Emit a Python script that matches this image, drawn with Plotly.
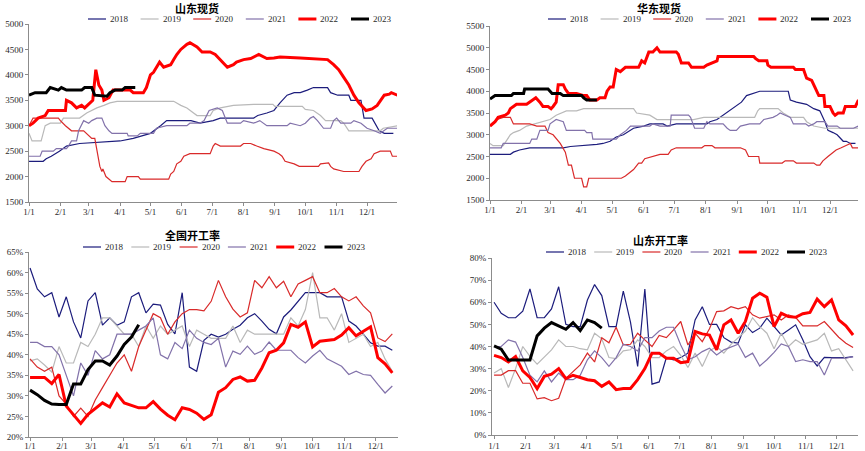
import plotly.graph_objects as go

W, H = 865, 451

YEARS = ["2018", "2019", "2020", "2021", "2022", "2023"]
COLORS = ["#1c1c7c", "#b9b9b9", "#d92a2a", "#8272aa", "#ff0000", "#000000"]
WIDTHS = [1.2, 1.2, 1.2, 1.2, 3.0, 3.0]

MONTH_DAYS = [0, 31, 59, 90, 120, 151, 181, 212, 243, 273, 304, 334]
MONTH_TEXT = ["1/1", "2/1", "3/1", "4/1", "5/1", "6/1", "7/1", "8/1", "9/1", "10/1", "11/1", "12/1"]

# ---------------- 山东现货 (day-of-year, price) ----------------
sd_spot_2018 = [(0,2300),(14,2300),(17,2350),(22,2400),(30,2500),(37,2600),(50,2650),(90,2700),(103,2750),(113,2800),(120,2850),(130,3000),(136,3100),(160,3100),(169,3050),(182,3100),(189,3150),(222,3150),(226,3200),(235,3250),(242,3300),(248,3450),(255,3600),(262,3650),(268,3650),(275,3700),(281,3750),(295,3750),(298,3650),(305,3600),(316,3600),(318,3500),(328,3500),(331,3150),(339,3150),(346,2900),(351,2850),(360,2850)]
sd_spot_2019 = [(0,2850),(3,2700),(12,2700),(16,3000),(21,3050),(31,3050),(34,3150),(50,3150),(57,3250),(67,3350),(74,3400),(80,3450),(87,3480),(143,3480),(150,3400),(156,3350),(166,3200),(179,3200),(182,3300),(189,3350),(202,3400),(222,3420),(241,3420),(243,3380),(270,3380),(273,3320),(281,3300),(288,3200),(293,3100),(308,3100),(311,3050),(316,2900),(347,2900),(350,2950),(364,3000)]
sd_spot_2020 = [(0,3000),(4,3150),(29,3150),(31,3100),(36,3000),(39,2950),(42,2900),(54,2900),(59,2800),(62,2750),(65,2750),(67,2500),(70,2200),(72,2100),(73,2150),(76,2000),(79,1950),(82,1900),(95,1900),(97,2000),(108,2000),(110,1950),(138,1950),(140,2050),(143,2100),(146,2250),(150,2300),(153,2400),(159,2450),(179,2450),(182,2600),(184,2650),(189,2600),(209,2600),(212,2650),(219,2650),(225,2600),(232,2550),(242,2500),(247,2450),(250,2400),(253,2300),(262,2250),(267,2200),(286,2200),(288,2250),(296,2270),(298,2200),(301,2150),(311,2100),(326,2100),(329,2200),(333,2300),(338,2350),(341,2450),(347,2500),(357,2500),(359,2400),(364,2400)]
sd_spot_2021 = [(0,2400),(11,2400),(13,2500),(24,2500),(27,2550),(37,2550),(39,2600),(42,2700),(47,2700),(49,2900),(54,3100),(59,3050),(62,3100),(67,3150),(72,3150),(75,3000),(79,2900),(82,2850),(97,2850),(98,2800),(107,2800),(110,2850),(123,2850),(126,2950),(136,3000),(156,3000),(159,3050),(169,3050),(173,3100),(178,3300),(186,3350),(191,3300),(196,3050),(209,3050),(212,3100),(222,3050),(228,3100),(235,3000),(255,3000),(258,3050),(268,3000),(273,3050),(278,3150),(281,3180),(285,3100),(291,2950),(298,2950),(301,3100),(304,3150),(308,3050),(318,3050),(321,3100),(328,3050),(334,2950),(341,2900),(347,2850),(354,2950),(364,2950)]
sd_spot_2022 = [(0,3000),(4,3050),(9,3150),(16,3200),(19,3300),(36,3300),(37,3500),(42,3450),(47,3350),(52,3400),(55,3350),(60,3450),(63,3500),(66,4100),(69,3800),(72,3700),(74,3500),(79,3550),(83,3700),(100,3700),(103,3650),(113,3650),(116,3750),(120,4000),(123,4050),(126,4150),(129,4250),(133,4150),(140,4200),(143,4300),(146,4400),(150,4500),(156,4600),(159,4630),(166,4550),(171,4450),(179,4450),(184,4400),(189,4300),(196,4150),(202,4200),(205,4250),(212,4300),(219,4320),(227,4400),(235,4320),(242,4330),(248,4350),(268,4330),(281,4320),(295,4300),(301,4200),(306,4100),(311,3950),(316,3800),(321,3600),(326,3450),(333,3300),(339,3330),(344,3400),(351,3600),(356,3620),(358,3650),(364,3600)]
sd_spot_2023 = [(0,3600),(6,3650),(17,3650),(21,3750),(29,3700),(32,3750),(37,3700),(52,3700),(55,3750),(62,3750),(65,3600),(77,3580),(80,3650),(85,3700),(92,3700),(95,3750),(105,3750)]

# ---------------- 华东现货 (day-of-year, price) ----------------
hd_spot_2018 = [(0,2550),(20,2550),(23,2600),(29,2650),(39,2700),(72,2700),(79,2730),(92,2750),(105,2780),(111,2800),(118,2850),(124,2950),(131,3000),(141,3150),(151,3200),(157,3250),(170,3250),(174,3200),(183,3250),(213,3250),(216,3300),(223,3350),(229,3450),(236,3550),(242,3650),(247,3750),(252,3900),(259,3950),(265,4000),(293,4000),(295,3800),(301,3750),(311,3700),(318,3600),(324,3550),(329,3300),(332,3100),(337,3050),(341,3000),(347,2850),(350,2850),(354,2800),(359,2800)]
hd_spot_2019 = [(0,2800),(3,2750),(13,2750),(20,3000),(23,3050),(29,3100),(36,3200),(43,3250),(52,3300),(59,3350),(65,3450),(70,3500),(75,3550),(85,3550),(92,3600),(141,3600),(144,3500),(157,3450),(164,3350),(200,3350),(210,3400),(260,3400),(263,3550),(265,3600),(283,3600),(288,3500),(295,3400),(308,3400),(311,3300),(318,3200),(329,3150),(362,3150)]
hd_spot_2020 = [(0,3200),(7,3350),(13,3400),(20,3400),(23,3250),(39,3250),(46,3200),(54,3200),(57,3050),(62,3000),(69,2800),(74,2600),(77,2300),(80,2300),(83,2000),(90,2000),(92,1800),(95,1800),(97,2000),(129,2000),(133,2050),(136,2100),(141,2200),(146,2350),(149,2350),(152,2450),(159,2500),(167,2550),(175,2550),(178,2650),(183,2700),(208,2700),(211,2750),(218,2750),(221,2700),(246,2700),(251,2650),(254,2500),(264,2500),(265,2350),(287,2350),(290,2400),(298,2400),(301,2350),(318,2350),(321,2300),(324,2300),(327,2400),(332,2500),(337,2600),(340,2650),(345,2700),(350,2750),(354,2800),(356,2700),(362,2700)]
hd_spot_2021 = [(0,2700),(11,2700),(13,2800),(39,2800),(41,2900),(46,2900),(49,3100),(57,3100),(59,3250),(65,3350),(72,3300),(75,3100),(93,3100),(95,3050),(100,3050),(101,2900),(124,2900),(128,3000),(134,3100),(138,3200),(157,3200),(160,3250),(167,3200),(177,3200),(178,3450),(195,3450),(197,3400),(201,3150),(210,3150),(213,3300),(216,3250),(229,3250),(233,3150),(236,3100),(242,3100),(246,3200),(255,3250),(265,3250),(269,3350),(278,3400),(282,3450),(285,3500),(290,3450),(295,3400),(298,3250),(310,3250),(313,3200),(318,3250),(321,3300),(329,3300),(332,3200),(341,3200),(344,3150),(357,3150),(362,3200)]
hd_spot_2022 = [(0,3200),(5,3300),(8,3400),(15,3450),(18,3500),(20,3600),(23,3650),(26,3700),(36,3700),(39,3750),(42,3800),(45,3850),(49,3750),(52,3650),(57,3650),(60,3600),(62,3650),(65,3750),(67,4150),(72,4150),(74,4050),(77,3950),(85,3950),(92,3900),(95,3900),(98,3800),(105,3800),(108,3850),(113,3850),(115,4000),(118,4100),(121,4100),(124,4500),(128,4450),(133,4550),(146,4550),(149,4700),(152,4650),(156,4900),(160,4900),(164,5000),(167,4900),(183,4900),(185,4850),(188,4650),(195,4650),(198,4550),(210,4550),(213,4600),(218,4650),(223,4700),(224,4800),(259,4800),(261,4750),(264,4700),(272,4700),(273,4600),(276,4550),(298,4550),(300,4500),(308,4500),(311,4300),(316,4250),(319,4100),(323,3900),(328,3900),(329,3650),(334,3650),(337,3500),(339,3450),(342,3500),(347,3500),(349,3650),(359,3650),(362,3800)]
hd_spot_2023 = [(0,3820),(5,3900),(21,3900),(23,3950),(33,3950),(34,4050),(57,4050),(61,3950),(69,3950),(72,3900),(90,3900),(92,3850),(95,3800),(105,3800)]

# ---------------- weekly operating rates (%), one value per week from 1/1 ----------------
WEEK_DAYS = [7 * i for i in range(52)]

nat_rate_2018 = [61.1,56,54.1,55.1,49.2,54.1,48,44.1,53.1,55.1,47.2,49,47.2,48,54.1,55.1,50.2,52.3,52.1,47.4,45.1,55.1,37,36,43.5,45,44.3,45,46.2,47.2,49,50,48.2,46.2,45.1,49.2,50.9,53.1,55.1,55.1,55.1,54.1,54.1,54.1,48.2,47,45,42.9,42.1,42.1,41.1]
nat_rate_2019 = [38.5,39,37.5,35.8,42,38,38,43,42,45,49,49,47,45,45,42,47,44,47,45,46,47,42,46,45,44,44,44,47,43,46,45,45,45,45,45,49,47,51,60,49,49,46,50,43,44,45,42,43,39,36]
nat_rate_2020 = [39,37,36,37,30,28,25,27,25,29,32,35,38,40,36,42,46,50,49,45,48,50,51,51,50.7,53,58.1,54.1,51.1,49.2,50.2,58.1,56.3,59,56.3,57.9,54.1,57.2,58.1,59,55.1,55.1,56.1,54.1,53.1,54.1,51.9,50.2,44.1,43.2,45.1]
nat_rate_2021 = [43,43,42,42,40,35,30,38,35,41,39,40,45,45,45,46,47,49,40,39,43,41.5,46,44,43,42.5,44,37,40.9,40.1,42.1,40.1,40.9,43.1,41.1,41.1,41.1,39.3,38,39.7,41.1,39,38,37.2,35.2,36,35.2,35,32.8,30.7,32.4]
nat_rate_2022 = [34.5,34.5,34.5,33,35.2,27.5,25.5,23.3,25.5,27,28.3,27.3,30.5,28.3,27.7,27.1,27.1,28.6,26.8,25.3,24.2,27.1,26.7,25.8,24.3,25.4,30.9,32,34,34.6,33.6,33.8,36.8,40.5,41.1,42.9,47.4,46.7,48,41.9,43.3,43.5,43.7,44.8,46.6,44.6,45.6,46.8,39.3,37.8,35.6]
nat_rate_2023 = [31.4,30.3,28.9,28,27.9,27.9,32.9,32.9,36.4,38.5,38.5,37.5,39.7,42.5,44.3,47.3]

sd_rate_2018 = [60,55,53,53,56,66,53,53,57,67,50,49,49,61,68,63,49,49,65,51,31,66,23,24,35,34,35,37,52,58,50,50,44,42,41.5,49.8,46.3,48.3,52.8,49,45.2,47.5,49.8,43,35.4,31.2,35.1,35,35,35,35.4]
sd_rate_2019 = [28,30,21.5,30,40,35.5,32,35.5,38.5,43,40,40,39,38.5,46,43.5,35,34.5,38,38.5,43,40,35,35,38,40,36,30.5,37,31,38,40,37,41,44,47,53,49,46,39,46,40,43,41,42,43,46,38,39,34,29]
sd_rate_2020 = [27.1,27.1,29.1,29.1,23.4,23.4,16.3,16.9,15.5,16.6,25.6,28.7,31.7,37,33,44,41.7,48.7,40.7,41,46,43,40,45,44,47.5,51.3,40.7,46,42.2,48,55.8,56.1,58,57,58,54.3,52.8,53.5,54.3,52,54.3,53.2,49.3,49.3,49.3,51.3,47.8,44.2,41.5,39.5]
sd_rate_2021 = [40,40,43,42,35,27,24,29,24,28,25,25,27,34,38,35,31,35,41,40,38,44,44,47,48.7,48.7,40.7,34,35.4,37.7,39.2,36.2,38.5,39.7,41,35.1,37,31.2,34,37.3,41.2,40,33.2,34,33.2,33.2,27.1,34.7,34.7,34.7,35.4]
sd_rate_2022 = [36,35,33,35.5,29,26,21,26.5,27.5,30,25.5,27,26,25,24.5,22,24,20.5,21,21,25,30,37,37,34.7,34.7,32.7,33.2,46.8,45.7,45.2,38.5,49.8,52,46,51.3,61.8,64.1,62.3,49,55,53.5,53.2,54.8,55.4,61.4,58,61.1,52,49.3,45.2]
sd_rate_2023 = [40.3,38.8,33.9,33.9,33.9,33.9,44.8,48.3,50.8,49.3,47.8,50.8,47.2,52,50.8,48.3]

PANELS = [
    dict(title="山东现货", kind="spot",
         series=[sd_spot_2018, sd_spot_2019, sd_spot_2020, sd_spot_2021, sd_spot_2022, sd_spot_2023],
         px=(29, 397), py=(24, 202), xr=[0, 363.6], yr=[1500, 5000], dtick=500, suffix="",
         title_xy=(197, 8), leg=(88, 19, 52.6), xstand=-2),
    dict(title="华东现货", kind="spot",
         series=[hd_spot_2018, hd_spot_2019, hd_spot_2020, hd_spot_2021, hd_spot_2022, hd_spot_2023],
         px=(490, 858), py=(26, 200), xr=[0, 361.5], yr=[1500, 5500], dtick=500, suffix="",
         title_xy=(659, 8), leg=(548, 19, 52.6), xstand=-2),
    dict(title="全国开工率", kind="rate",
         series=[nat_rate_2018, nat_rate_2019, nat_rate_2020, nat_rate_2021, nat_rate_2022, nat_rate_2023],
         px=(29, 398), py=(252, 437), xr=[-1, 355.5], yr=[20, 65], dtick=5, suffix="%",
         title_xy=(192, 235), leg=(83, 247, 48.3), xstand=-3),
    dict(title="山东开工率", kind="rate",
         series=[sd_rate_2018, sd_rate_2019, sd_rate_2020, sd_rate_2021, sd_rate_2022, sd_rate_2023],
         px=(492, 858), py=(258, 435), xr=[-2, 354.8], yr=[0, 80], dtick=10, suffix="%",
         title_xy=(660, 240), leg=(546, 252, 48.2), xstand=-1),
]

AXIS_COLOR = "#8c8c8c"
TICK_FONT = dict(family="Liberation Serif, Times New Roman, serif", size=9, color="#2a2a2a")

fig = go.Figure()
layout = dict(width=W, height=H, margin=dict(l=0, r=0, t=0, b=0, autoexpand=False),
              paper_bgcolor="white", plot_bgcolor="white", showlegend=False)
shapes, annotations = [], []

for k, p in enumerate(PANELS):
    n = "" if k == 0 else str(k + 1)
    xa, ya = "x" + n, "y" + n
    for i, s in enumerate(p["series"]):
        if p["kind"] == "spot":
            xs = [d for d, v in s]
            ys = [v for d, v in s]
        else:
            xs = WEEK_DAYS[:len(s)]
            ys = s
        fig.add_trace(go.Scatter(x=xs, y=ys, mode="lines", name=YEARS[i],
                                 line=dict(color=COLORS[i], width=WIDTHS[i]),
                                 xaxis=xa, yaxis=ya, hoverinfo="skip", showlegend=False))
    layout["xaxis" + n] = dict(
        domain=[p["px"][0] / W, p["px"][1] / W], anchor=ya, range=p["xr"], automargin=False,
        tickmode="array", tickvals=MONTH_DAYS, ticktext=MONTH_TEXT, ticklabelstandoff=p["xstand"],
        showline=True, linecolor=AXIS_COLOR, linewidth=1, ticks="outside", ticklen=3,
        tickcolor=AXIS_COLOR, tickfont=TICK_FONT, showgrid=False, zeroline=False, fixedrange=True)
    layout["yaxis" + n] = dict(
        domain=[1 - p["py"][1] / H, 1 - p["py"][0] / H], anchor=xa, range=p["yr"], automargin=False,
        tick0=p["yr"][0], dtick=p["dtick"], ticksuffix=p["suffix"], tickformat="d",
        showline=True, linecolor=AXIS_COLOR, linewidth=1, ticks="outside", ticklen=3,
        tickcolor=AXIS_COLOR, tickfont=TICK_FONT, showgrid=False, zeroline=False, fixedrange=True)
    # title
    tx, ty = p["title_xy"]
    annotations.append(dict(x=tx / W, y=1 - ty / H, xref="paper", yref="paper",
                            text="<b>%s</b>" % p["title"], showarrow=False,
                            xanchor="center", yanchor="middle",
                            font=dict(family="Noto Sans CJK SC", size=11, color="#000000")))
    # legend row
    lx0, ly, step = p["leg"]
    for i, yname in enumerate(YEARS):
        x0 = lx0 + i * step
        shapes.append(dict(type="line", xref="paper", yref="paper",
                           x0=x0 / W, x1=(x0 + 18) / W, y0=1 - ly / H, y1=1 - ly / H,
                           line=dict(color=COLORS[i], width=WIDTHS[i])))
        annotations.append(dict(x=(x0 + 20) / W, y=1 - ly / H, xref="paper", yref="paper",
                                text=yname, showarrow=False, xanchor="left", yanchor="middle",
                                font=TICK_FONT))

layout["shapes"] = shapes
layout["annotations"] = annotations
fig.update_layout(**layout)
fig.write_html("out.html", config={"displayModeBar": False},
               post_script="document.body.style.margin='0';document.body.style.overflow='hidden';")
